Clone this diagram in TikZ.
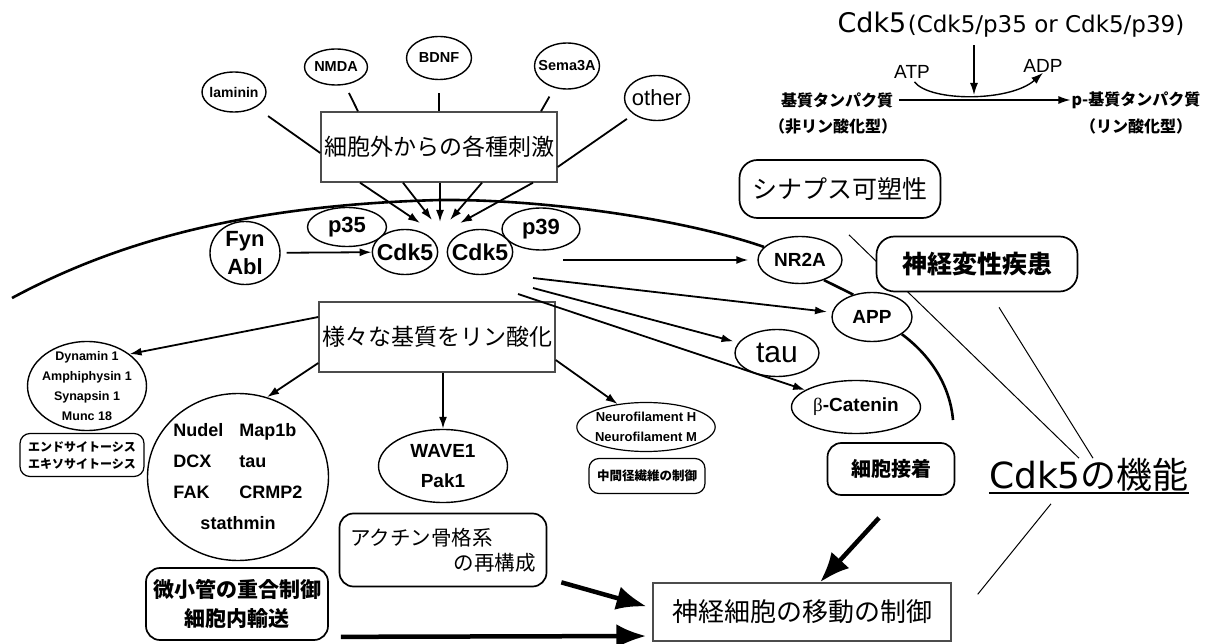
\documentclass[tikz,border=0pt]{standalone}
\usepackage{fontspec}
\setmainfont{Liberation Sans}
\newfontfamily\jp{Noto Sans CJK JP}
\newfontfamily\dv{DejaVu Sans}
\newfontfamily\grk{Liberation Serif}
\usetikzlibrary{shapes.geometric, arrows.meta, positioning, calc}
\newcommand{\fsz}[2]{\fontsize{#1}{#2}\selectfont}
\tikzset{
	oval/.style={ellipse,draw,line width=1.4pt,inner sep=0pt},
	sqbox/.style={rectangle,draw=black!70,line width=1.4pt,inner sep=0pt},
	rbox/.style={rectangle,rounded corners=14pt,draw,line width=1.7pt,inner sep=0pt},
	link/.style={line width=1.8pt},
	arr/.style={line width=1.8pt,-{Latex[length=12pt,width=8pt]}},
	bigarr/.style={line width=4.5pt,-{Latex[length=30pt,width=24pt]}},
	fline/.style={line width=1pt},
	membrane/.style={line width=2.6pt},
}

\begin{document}
\begin{tikzpicture}[x=1pt,y=-1pt]
		\useasboundingbox (0,0) rectangle (1213,644);
		
		% extracellular signals
		\node(laminin) at (234,92)[oval,inner xsep=-3pt,minimum width=64pt,minimum height=40pt,font=\bfseries\fsz{14}{16}]{laminin};
		\node(nmda) at (336,67)[oval,minimum width=63pt,minimum height=36pt,font=\bfseries\fsz{14.5}{16}]{NMDA};
		\node(bdnf) at (439,58)[oval,minimum width=65pt,minimum height=43pt,font=\bfseries\fsz{14.5}{16}]{BDNF};
		\node(sema) at (567,66)[oval,inner xsep=-6pt,minimum width=65pt,minimum height=46pt,font=\bfseries\fsz{14.5}{16}]{Sema3A};
		\node(other) at (657,98)[oval,inner xsep=-4pt,minimum width=65pt,minimum height=45pt,font=\fsz{22}{24}]{other};
		\node(stim) at (439,147)[sqbox,minimum width=236pt,minimum height=70pt,font=\jp\fsz{23}{26}]{細胞外からの各種刺激};
		
		% Cdk5 and activators
		\node(p35) at (347,227)[oval,minimum width=79pt,minimum height=39pt,font=\bfseries\fsz{22}{24}]{p35};
		\node(p39) at (541,229)[oval,minimum width=78pt,minimum height=42pt,font=\bfseries\fsz{22}{24}]{p39};
		\node(cdkL) at (405,252)[oval,fill=white,inner xsep=-5pt,minimum width=65pt,minimum height=45pt,font=\bfseries\fsz{23}{25}]{Cdk5};
		\node(cdkR) at (480,252)[oval,fill=white,inner xsep=-5pt,minimum width=65pt,minimum height=45pt,font=\bfseries\fsz{23}{25}]{Cdk5};
		\node(fyn) at (245,253)[oval,inner ysep=-4pt,minimum width=70pt,minimum height=63pt,align=center,font=\bfseries\fsz{22}{28}]{Fyn\\Abl};
		\coordinate(hub) at (440,222);
		
		% substrates
		\node(phos) at (437,337)[sqbox,minimum width=236pt,minimum height=70pt,font=\jp\fsz{23}{26}]{様々な基質をリン酸化};
		\node(dyn) at (87,386)[oval,inner xsep=-3pt,inner ysep=-6pt,minimum width=119pt,minimum height=89pt,align=center,font=\bfseries\fsz{12.5}{20}]{Dynamin 1\\Amphiphysin 1\\Synapsin 1\\Munc 18};
		\node(endo) at (82,455)[rbox,rounded corners=10pt,line width=1.2pt,minimum width=124pt,minimum height=43pt,align=center,font=\jp\bfseries\fsz{12}{17}]{エンドサイトーシス\\エキソサイトーシス};
		\node(circ) at (238,477)[oval,inner xsep=-3pt,inner ysep=-6pt,minimum width=181pt,minimum height=167pt,font=\bfseries\fsz{18}{31}]{\begin{tabular}{@{}p{66pt}@{}l@{}}Nudel&Map1b\\DCX&tau\\FAK&CRMP2\\\multicolumn{2}{c}{stathmin}\end{tabular}};
		\node(wave) at (443,466)[oval,minimum width=129pt,minimum height=73pt,align=center,font=\bfseries\fsz{19}{30}]{WAVE1\\Pak1};
		\node(nf) at (646,427)[oval,line width=1.2pt,inner xsep=-2pt,minimum width=137pt,minimum height=49pt,align=center,font=\bfseries\fsz{13}{20}]{Neurofilament H\\Neurofilament M};
		\node(ifc) at (647,476)[rbox,rounded corners=10pt,line width=1.2pt,minimum width=116pt,minimum height=35pt,font=\jp\bfseries\fsz{12.5}{14}]{中間径繊維の制御};
		\node(actin) at (443,550)[rbox,minimum width=207pt,minimum height=73pt,align=left,font=\jp\fsz{20.5}{25}]{アクチン骨格系\\\hspace*{103pt}の再構成};
		\node(mt) at (237,604)[rbox,minimum width=182pt,minimum height=72pt,align=center,font=\jp\bfseries\fsz{21}{29}]{微小管の重合制御\\細胞内輸送};
		\node(mig) at (802,612)[sqbox,minimum width=298pt,minimum height=58pt,font=\jp\fsz{26}{28}]{神経細胞の移動の制御};
		\node(adh) at (891,469)[rbox,minimum width=127pt,minimum height=52pt,font=\jp\bfseries\fsz{20}{22}]{細胞接着};
		
		% membrane side targets
		\node(nr2a) at (800,260)[oval,minimum width=84pt,minimum height=47pt,font=\bfseries\fsz{19}{21}]{NR2A};
		\node(app) at (872,317)[oval,minimum width=80pt,minimum height=49pt,font=\bfseries\fsz{19}{21}]{APP};
		\node(tau) at (777,353)[oval,minimum width=84pt,minimum height=47pt,font=\fsz{30}{32}]{tau};
		\node(bcat) at (856,407)[oval,minimum width=129pt,minimum height=53pt,font=\bfseries\fsz{19}{21}]{{\grk\mdseries β}-Catenin};
		
		% functions
		\node(syn) at (840,189)[rbox,rounded corners=18pt,minimum width=201pt,minimum height=58pt,font=\jp\fsz{25}{27}]{シナプス可塑性};
		\node(func) at (1089,475)[inner sep=0pt,font=\fsz{36}{38}]{{\dv Cdk5}{\jp の機能}};
		\draw[line width=1.6pt] ([yshift=-1pt]func.south west) -- ([yshift=-1pt]func.south east);
		\draw[fline] ([xshift=9pt,yshift=-16pt]syn.south) -- ([xshift=-10pt]func.north);
		\node(neuro) at (977,264)[rbox,rounded corners=18pt,fill=white,minimum width=201pt,minimum height=55pt,font=\jp\bfseries\fsz{25}{27}]{神経変性疾患};
		\draw[fline] ([xshift=22pt,yshift=-15pt]neuro.south) -- ([xshift=4pt]func.north);
		\draw[fline] ([xshift=-38pt,yshift=-12pt]func.south) -- ([xshift=26pt,yshift=-12pt]mig.north east);
		
		% kinase reaction
		\node(cdktitle) at (872,22)[inner sep=0pt,font=\dv\fsz{27}{30}]{Cdk5};
		\node(cdksub)[right=1pt of cdktitle.base east,anchor=base west,inner sep=0pt,font=\dv\fsz{23}{26}]{(Cdk5/p35 or Cdk5/p39)};
		\node(atp) at (912,72)[inner sep=0pt,font=\fsz{19}{21}]{ATP};
		\node(adp) at (1043,66)[inner sep=0pt,font=\fsz{19}{21}]{ADP};
		\node(sub) at (837,100)[inner sep=1pt,font=\jp\bfseries\fsz{16}{18}]{基質タンパク質};
		\node(psub) at (1136,100)[inner sep=1pt,font=\jp\bfseries\fsz{16}{18}]{p-基質タンパク質};
		\node(unp) at (833,126)[inner sep=0pt,font=\jp\bfseries\fsz{16}{18}]{（非リン酸化型）};
		\node(pho) at (1136,126)[inner sep=0pt,font=\jp\bfseries\fsz{16}{18}]{（リン酸化型）};
		\coordinate(cat) at (974,95);
		\draw[arr,line width=1.4pt,shorten <=8pt] (cdksub.south -| cat) -- (cat);
		\draw[arr,line width=1.4pt,shorten <=5pt] (sub) -- (psub);
		\draw[arr,line width=1.4pt,shorten <=4pt] (atp.south) .. controls (930,102) and (1010,102) .. (adp.south);
		
		% cell membrane
		\draw[membrane] (12,298) .. controls (120,240) and (250,205) .. (440,200) .. controls (540,199) and (680,218) .. (nr2a.160);
		\draw[membrane] (nr2a.-40) -- (app.130);
		\draw[membrane] (app.-30) .. controls (930,355) and (950,385) .. (953,420);
		
		% signals into the cell
		\draw[link,shorten <=15pt] (laminin) -- ([yshift=-6pt]stim.west);
		\draw[link,shorten <=9pt] (nmda) -- ([xshift=-81pt]stim.north);
		\draw[link,shorten <=13pt] (bdnf) -- (stim.north);
		\draw[link,shorten <=10pt] (sema) -- ([xshift=102pt]stim.north);
		\draw[link,shorten <=8pt] (other) -- ([yshift=-20pt]stim.east);
		\draw[arr] ([xshift=-79pt]stim.south) -- ([xshift=-20pt,yshift=-1pt]hub);
		\draw[arr] ([xshift=-36pt]stim.south) -- ([xshift=-8pt,yshift=2pt]hub);
		\draw[arr] ([xshift=1pt]stim.south) -- (hub);
		\draw[arr] ([xshift=43pt]stim.south) -- ([xshift=10pt,yshift=2pt]hub);
		\draw[arr] ([xshift=94pt]stim.south) -- ([xshift=20pt,yshift=-1pt]hub);
		\draw[arr,shorten <=6pt] (fyn) -- (cdkL);
		
		% Cdk5 targets
		\coordinate(o1) at (563,260);
		\coordinate(o2) at (533,278);
		\coordinate(o3) at (533,288);
		\coordinate(o4) at (518,294);
		\draw[arr,shorten >=9pt] (o1) -- (nr2a);
		\draw[arr,shorten >=5pt] (o2) -- (app);
		\draw[arr,shorten >=5pt] (o3) -- (tau);
		\draw[arr] (o4) -- (bcat);
		\draw[arr] ([yshift=20pt]phos.west) -- (dyn.north east);
		\draw[arr] ([yshift=-26pt]phos.west) -- (circ.70);
		\draw[arr] (phos.south -| wave) -- (wave);
		\draw[arr] ([yshift=-23pt]phos.east) -- (nf.141);
		
		% towards migration
		\draw[bigarr,shorten >=6pt] ([xshift=14pt,yshift=5pt]actin.south east) -- ([yshift=4pt]mig.west);
		\draw[bigarr,shorten >=6pt] ([xshift=12pt,yshift=4pt]mt.south east) -- ([yshift=-24pt]mig.west);
		\draw[bigarr] ([xshift=-12pt,yshift=-22pt]adh.south) -- ([xshift=18pt]mig.north);
		
	\end{tikzpicture}
\end{document}
